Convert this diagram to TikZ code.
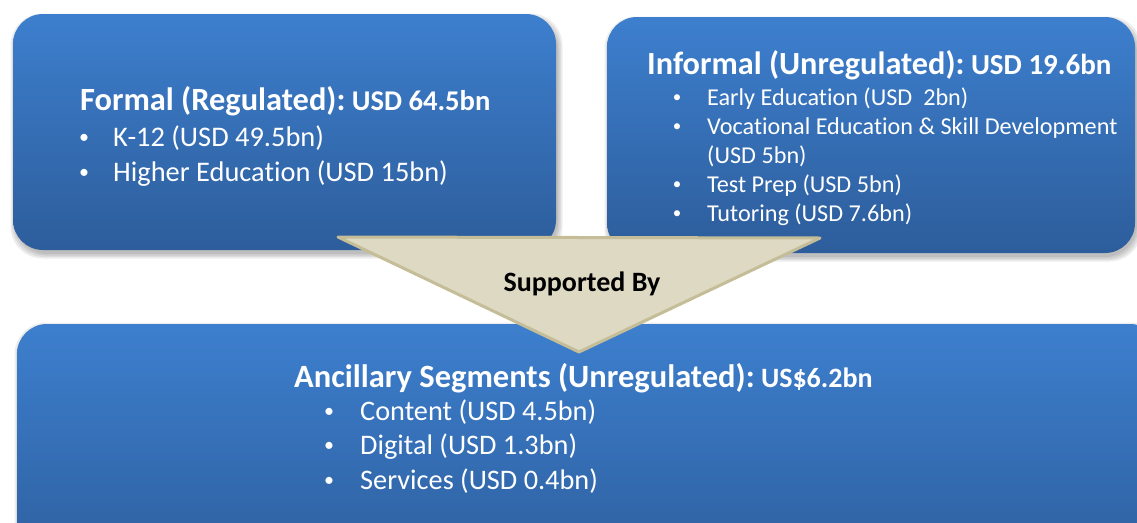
\documentclass[tikz,border=0pt]{standalone}
\usepackage{fontspec}
\setmainfont{Carlito}[Ligatures=NoCommon]
\definecolor{bluetop}{RGB}{61,127,206}
\definecolor{bluebot}{RGB}{45,93,155}
\definecolor{trifill}{RGB}{221,217,195}
\definecolor{triline}{RGB}{196,189,151}
\begin{document}
\begin{tikzpicture}[x=1pt,y=-1pt,
  boxshade/.style={top color=bluetop, bottom color=bluebot, rounded corners=30pt},
  shadowlayer/.style={fill=black, opacity=0.07, rounded corners=32pt},
  ttl/.style={anchor=base west, text=white, inner sep=0pt, font=\bfseries},
  bul/.style={anchor=center, text=white, inner sep=0pt},
  itm/.style={anchor=base west, text=white, inner sep=0pt},
  tri/.style={fill=trifill, draw=triline, line width=3pt, line join=round}]
\useasboundingbox (0,0) rectangle (1137,522);
\clip (0,0) rectangle (1137,522);
% shadows
\foreach \e in {0,1.5,3,4.5}{
  \fill[shadowlayer] (15-\e,18-\e) rectangle (558+\e,254+\e);
  \fill[shadowlayer] (609-\e,21-\e) rectangle (1137+\e,257+\e);
  \fill[shadowlayer] (19-\e,327-\e) rectangle (1160+\e,560+\e);
}
% boxes
\shade[boxshade] (13,14) rectangle (556,250);
\shade[boxshade] (607,17) rectangle (1135,253);
\shade[boxshade, bottom color=bluebot!90!bluetop] (17,324) rectangle (1160,560);
% triangle
\coordinate (tl) at (338,237);
\coordinate (tr) at (820,238);
\coordinate (tb) at (579,352);
\draw[tri] (tl) -- (tr) -- (tb) -- cycle;
\node[anchor=base, inner sep=0pt, font=\bfseries\fontsize{28}{32}\selectfont] (sup) at (582,291) {Supported By};
% left box text
\node[ttl] (ft) at (80,110) {\fontsize{32.4}{38}\selectfont Formal (Regulated):\fontsize{28.6}{34}\selectfont\ USD 64.5bn};
\node[bul, font=\fontsize{20}{24}\selectfont] (fb1) at (84,139) {•};
\node[itm, font=\fontsize{28.4}{32}\selectfont] (fi1) at (113,146) {K-12 (USD 49.5bn)};
\node[bul, font=\fontsize{20}{24}\selectfont] (fb2) at (84,174) {•};
\node[itm, font=\fontsize{28.4}{32}\selectfont] (fi2) at (113,181) {Higher Education (USD 15bn)};
% right box text
\node[ttl] (it) at (647,74) {\fontsize{32.3}{38}\selectfont Informal (Unregulated):\fontsize{29}{34}\selectfont\ USD 19.6bn};
\node[bul, font=\fontsize{17}{20}\selectfont] (ib1) at (677,99) {•};
\node[itm, font=\fontsize{24.2}{28}\selectfont] (ii1) at (707,105) {Early Education (USD\ \ 2bn)};
\node[bul, font=\fontsize{17}{20}\selectfont] (ib2) at (677,128) {•};
\node[itm, font=\fontsize{24.2}{28}\selectfont] (ii2) at (707,134) {Vocational Education \& Skill Development};
\node[itm, font=\fontsize{24.2}{28}\selectfont] (ii2b) at (707,163) {(USD 5bn)};
\node[bul, font=\fontsize{17}{20}\selectfont] (ib3) at (677,186) {•};
\node[itm, font=\fontsize{24.2}{28}\selectfont] (ii3) at (707,192) {Test Prep (USD 5bn)};
\node[bul, font=\fontsize{17}{20}\selectfont] (ib4) at (677,215) {•};
\node[itm, font=\fontsize{24.2}{28}\selectfont] (ii4) at (707,221) {Tutoring (USD 7.6bn)};
% bottom box text
\node[ttl] (at) at (294,387) {\fontsize{32.5}{38}\selectfont Ancillary Segments (Unregulated):\fontsize{28}{34}\selectfont\ US\$6.2bn};
\node[bul, font=\fontsize{20}{24}\selectfont] (ab1) at (329,413) {•};
\node[itm, font=\fontsize{28.3}{32}\selectfont] (ai1) at (360,420) {Content (USD 4.5bn)};
\node[bul, font=\fontsize{20}{24}\selectfont] (ab2) at (329,447) {•};
\node[itm, font=\fontsize{28.3}{32}\selectfont] (ai2) at (360,454) {Digital (USD 1.3bn)};
\node[bul, font=\fontsize{20}{24}\selectfont] (ab3) at (329,482) {•};
\node[itm, font=\fontsize{28.3}{32}\selectfont] (ai3) at (360,489) {Services (USD 0.4bn)};
\end{tikzpicture}
\end{document}
